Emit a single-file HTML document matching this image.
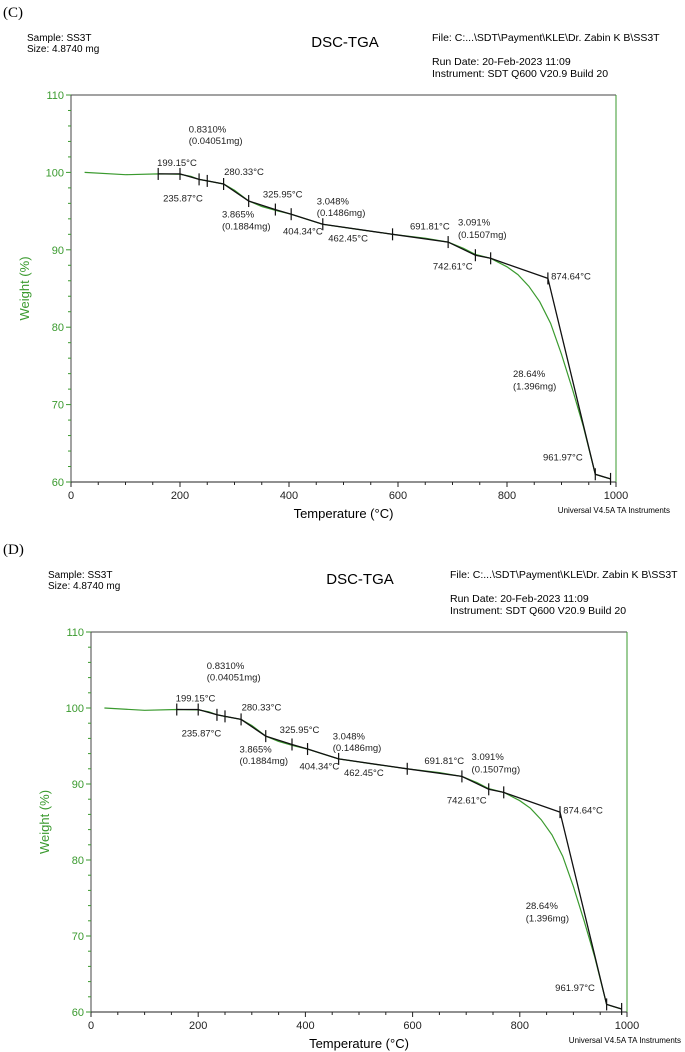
<!DOCTYPE html>
<html><head><meta charset="utf-8"><style>
html,body{margin:0;padding:0;background:#fff}
svg{display:block;font-family:"Liberation Sans",sans-serif}
.s{font-family:"Liberation Serif",serif}
</style></head><body>
<svg id="c" width="685" height="1052" viewBox="0 0 685 1052"></svg>
<script>
const temps=[25,100,160,200,220,235,250,280,300,326,350,380,404,430,462,520,590,650,692,720,742,770,800,820,840,860,880,900,920,940,962,975,990];
const weights=[100,99.7,99.8,99.75,99.5,99.1,98.9,98.5,97.7,96.3,95.6,95.0,94.6,94.0,93.3,92.7,92.0,91.5,91.0,90.2,89.4,88.9,87.8,86.8,85.3,83.3,80.5,76.5,72,67.2,61,60.7,60.4];
const tanT=[160,200,235,250,280,326,375,404,462,590,692,742,770,875,962,990];
const tanW=[99.8,99.8,99.1,98.9,98.5,96.3,95.2,94.6,93.3,92.0,91.0,89.3,88.9,86.3,61,60.4];
const markT=[160,200,235,250,280,326,375,404,462,590,692,742,770,875,962,990];
const xTicks=[0,200,400,600,800,1000];
const yTicks=[60,70,80,90,100,110];
const labels=[["0.8310%",216,105.6],["(0.04051mg)",216,104.1],["199.15°C",158,101.3],["280.33°C",281,100.1],["235.87°C",169,96.7],["325.95°C",352,97.2],["3.865%",277,94.6],["(0.1884mg)",277,93.1],["3.048%",451,96.3],["(0.1486mg)",451,94.8],["404.34°C",389,92.4],["462.45°C",472,91.5],["691.81°C",622,93.1],["3.091%",710,93.6],["(0.1507mg)",710,92.0],["742.61°C",664,87.9],["874.64°C",881,86.6],["28.64%",811,74.0],["(1.396mg)",811,72.4],["961.97°C",866,63.2]];
const NS="http://www.w3.org/2000/svg";
const svg=document.getElementById('c');
function mk(t,a,p){const e=document.createElementNS(NS,t);for(const k in a)e.setAttribute(k,a[k]);(p||svg).appendChild(e);return e;}
function txt(s,x,y,a,p){const e=mk('text',a,p);e.textContent=s;e.setAttribute('x',x);e.setAttribute('y',y);return e;}
const G='#3a9a2e';
function panel(id,oy,x0,x1,y0,y1,hx,tx,fx){
 const g=mk('g',{});
 
 
 const X=t=>x0+(x1-x0)*t/1000, Y=w=>y1-(y1-y0)*(w-60)/50;
 let e=txt('('+id.toUpperCase()+')',3,oy+17,{'font-size':15,class:'s',fill:'#000'},g);
 
 e=txt('Sample: SS3T',hx,oy+41,{'font-size':10},g);
 e=txt('Size:  4.8740 mg',hx,oy+52,{'font-size':10},g);
 e=txt('DSC-TGA',tx,oy+47,{'font-size':15,'text-anchor':'middle'},g);
 e=txt('File: C:...\\SDT\\Payment\\KLE\\Dr. Zabin K B\\SS3T',fx,oy+41,{'font-size':10.5},g);
 e=txt('Run Date: 20-Feb-2023 11:09',fx,oy+65,{'font-size':10.5},g);
 e=txt('Instrument: SDT Q600 V20.9 Build 20',fx,oy+77,{'font-size':10.5},g);
 mk('line',{x1:x0,y1:y0,x2:x1,y2:y0,stroke:'#444'},g);
 mk('line',{x1:x0,y1:y1,x2:x1,y2:y1,stroke:'#222'},g);
 mk('line',{x1:x0,y1:y0,x2:x0,y2:y1,stroke:'#444'},g);
 mk('line',{x1:x1,y1:y0,x2:x1,y2:y1,stroke:G},g);
 for(let t=0;t<=1000;t+=50){const big=t%200==0;mk('line',{x1:X(t),y1:y1,x2:X(t),y2:y1+(big?5:3),stroke:'#222'},g);}
 for(let w=60;w<=110;w+=2){const big=w%10==0;mk('line',{x1:x0-(big?5:3),y1:Y(w),x2:x0,y2:Y(w),stroke:G},g);}
 xTicks.forEach(t=>{const e=txt(t,X(t),y1+17,{'font-size':11,'text-anchor':'middle',fill:'#222'},g);});
 yTicks.forEach(w=>{const e=txt(w,x0-7,Y(w)+4,{'font-size':11,'text-anchor':'end',fill:G},g);});
 e=txt('Temperature (°C)',(x0+x1)/2,y1+36,{'font-size':13,'text-anchor':'middle'},g);
 e=txt('Weight (%)',0,0,{'font-size':13,'text-anchor':'middle',fill:G,transform:`translate(${x0-42},${(y0+y1)/2}) rotate(-90)`},g);
 e=txt('Universal V4.5A TA Instruments',x1+54,y1+31,{'font-size':8,'text-anchor':'end'},g);
 let d=temps.map((t,i)=>(i?'L':'M')+X(t).toFixed(1)+','+Y(weights[i]).toFixed(1)).join('');
 e=mk('path',{d:d,fill:'none',stroke:G,'stroke-width':1.2},g);
 d=tanT.map((t,i)=>(i?'L':'M')+X(t).toFixed(1)+','+Y(tanW[i]).toFixed(1)).join('');
 e=mk('path',{d:d,fill:'none',stroke:'#111','stroke-width':1.3},g);
 markT.forEach((t,i)=>{const w=tanW[i];const m=mk('line',{x1:X(t),y1:Y(w)-6,x2:X(t),y2:Y(w)+6,stroke:'#111','stroke-width':1.2},g);});
 labels.forEach(l=>{const e=txt(l[0],X(l[1]),Y(l[2])+3.5,{'font-size':9.5,fill:'#222'},g);});
}
panel('c',0,71,616,95,482,27,345,432);
panel('d',537,91,627,632,1012,48,360,450);
</script>
</body></html>
